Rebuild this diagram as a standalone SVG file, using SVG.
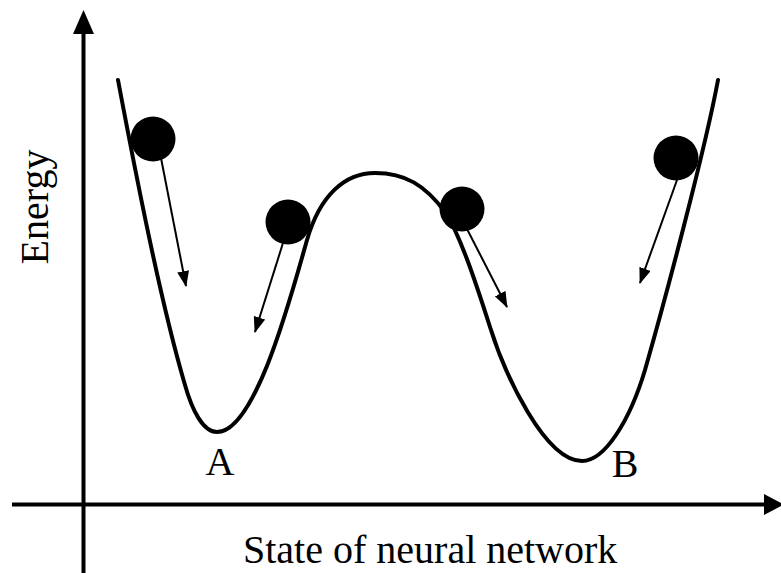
<svg xmlns="http://www.w3.org/2000/svg" width="781" height="573" viewBox="0 0 781 573">
<style>
.axis{stroke:#000;stroke-width:4;fill:none}
.curve{stroke:#000;stroke-width:4;fill:none;stroke-linejoin:round;stroke-linecap:round}
.arr{stroke:#000;stroke-width:2;fill:none;marker-end:url(#ah)}
.ball{fill:#000}
.lbl{font-family:"Liberation Serif","Times New Roman",serif;font-size:40px;fill:#000}
</style>
<defs>
<marker id="ah" viewBox="0 0 16 12" refX="15" refY="6" markerWidth="16" markerHeight="12" markerUnits="userSpaceOnUse" orient="auto">
<path d="M0,0 L16,6 L0,12 Z" fill="#000"/>
</marker>
</defs>
<rect width="781" height="573" fill="#fff"/>
<g id="axes">
<line class="axis" x1="83.5" y1="30" x2="83.5" y2="573"/>
<polygon points="83.5,10 73,34 94,34" fill="#000"/>
<line class="axis" x1="12" y1="504.5" x2="768" y2="504.5"/>
<polygon points="784,504.5 764,494 764,515" fill="#000"/>
</g>
<g id="energy-curve">
<path class="curve" d="M118,80 C135,170 160,300 185,385 C192,410 203,432 217,432 C255,432 290,300 307,240 C320,195 345,173 375,173 C405,173 425,185 445,212 C460,235 475,280 490,327 C505,375 545,461 582,461 C605,461 630,420 645,370 C665,300 705,150 718,80"/>
</g>
<g id="ball1"><circle class="ball" cx="153" cy="139" r="22.5"/></g>
<g id="ball2"><circle class="ball" cx="288" cy="222" r="22.5"/></g>
<g id="ball3"><circle class="ball" cx="462" cy="209" r="22.5"/></g>
<g id="ball4"><circle class="ball" cx="676" cy="158" r="22.5"/></g>
<g id="connectors">
<line class="arr" x1="161" y1="158" x2="186" y2="286"/>
<line class="arr" x1="283" y1="243" x2="255" y2="332"/>
<line class="arr" x1="467" y1="229" x2="507" y2="307"/>
<line class="arr" x1="677" y1="180" x2="640" y2="283"/>
</g>
<g id="labels">
<text class="lbl" x="220" y="475" text-anchor="middle">A</text>
<text class="lbl" x="625" y="477" text-anchor="middle">B</text>
<text class="lbl" x="243" y="563">State of neural network</text>
<text class="lbl" transform="translate(48,207) rotate(-90)" text-anchor="middle">Energy</text>
</g>
</svg>
